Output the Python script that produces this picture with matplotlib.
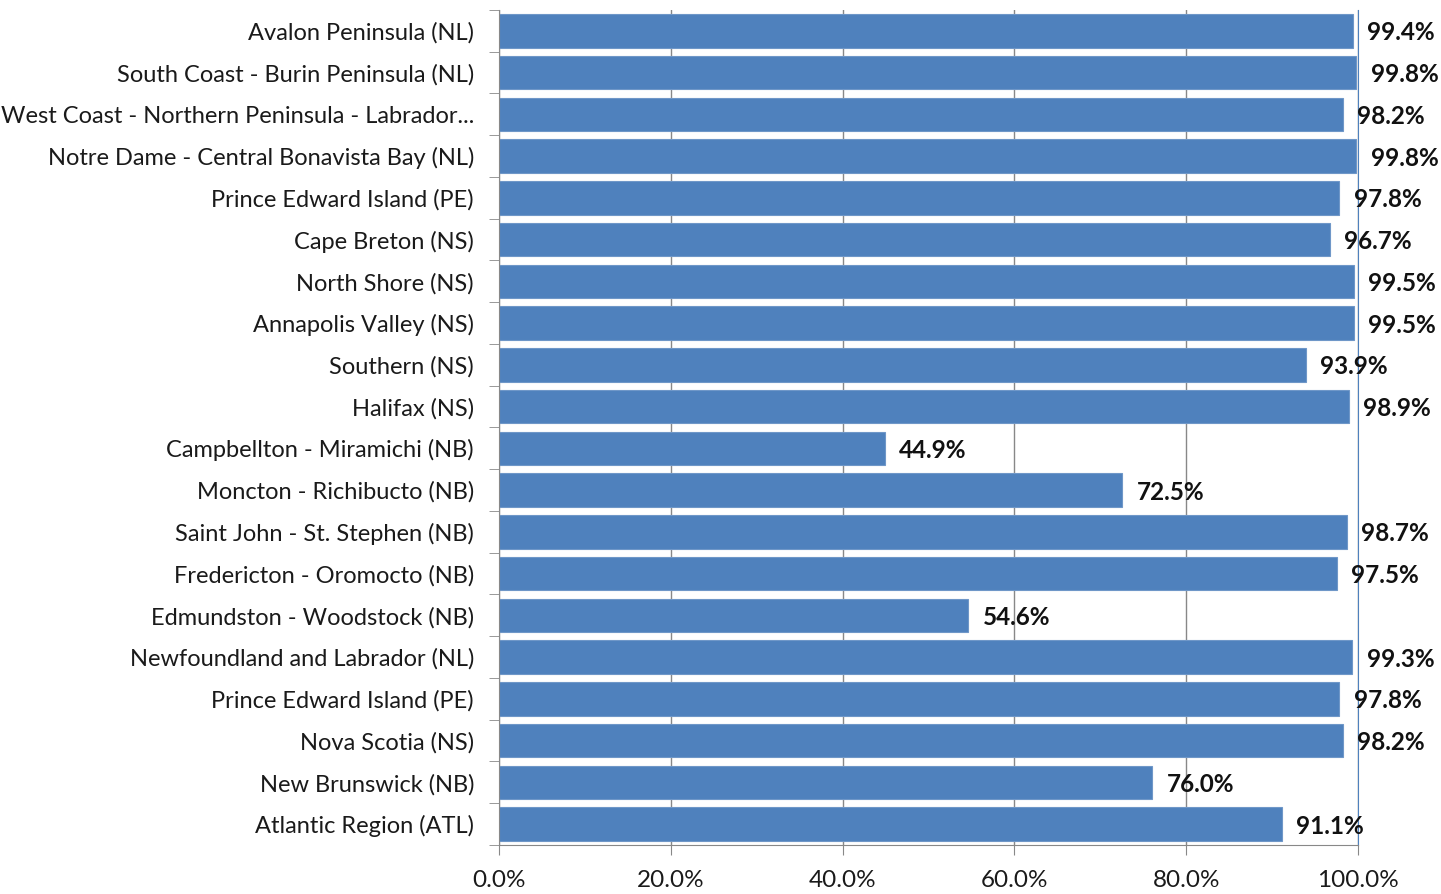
import matplotlib.pyplot as plt
import numpy as np

regions = ['Avalon Peninsula (NL)', 'South Coast - Burin Peninsula (NL)',
           'West Coast - Northern Peninsula - Labrador...',
           'Notre Dame - Central Bonavista Bay (NL)', 'Prince Edward Island (PE)',
           'Cape Breton (NS)', 'North Shore (NS)', 'Annapolis Valley (NS)',
           'Southern (NS)', 'Halifax (NS)', 'Campbellton - Miramichi (NB)',
           'Moncton - Richibucto (NB)', 'Saint John - St. Stephen (NB)',
           'Fredericton - Oromocto (NB)', 'Edmundston - Woodstock (NB)',
           'Newfoundland and Labrador (NL)', 'Prince Edward Island (PE)',
           'Nova Scotia (NS)', 'New Brunswick (NB)', 'Atlantic Region (ATL)']
values = [99.4, 99.8, 98.2, 99.8, 97.8, 96.7, 99.5, 99.5, 93.9, 98.9,
          44.9, 72.5, 98.7, 97.5, 54.6, 99.3, 97.8, 98.2, 76.0, 91.1]
xticks = [0, 20, 40, 60, 80, 100]

plt.rcParams['font.family'] = ['Lato', 'DejaVu Sans']
fig = plt.figure(figsize=(14.41, 8.94), dpi=100)
ax = fig.add_axes([499/1441, 1 - 845/894, 859/1441, 835/894])

y = np.arange(len(regions))
ax.barh(y, values, height=0.8, color='#4f81bd', edgecolor='#6f97c8', linewidth=0.8, zorder=2)
for yi, v in zip(y, values):
    ax.text(v + 1.7, yi, f'{v:.1f}%', va='center_baseline', ha='left', fontsize=17.5,
            fontweight='bold', color='#111111', zorder=3)

ax.set_xlim(0, 100)
ax.set_ylim(len(regions) - 0.5, -0.5)
ax.set_yticks(y)
ax.set_yticklabels(regions, fontsize=17, color='#1a1a1a')
ax.set_yticks(np.arange(-0.5, len(regions)), minor=True)
ax.tick_params(axis='y', which='major', length=0, pad=18)
ax.tick_params(axis='y', which='minor', length=7, color='#888888', direction='out')
ax.set_xticks(xticks)
ax.set_xticklabels([f'{t:.1f}%' for t in xticks], fontsize=17.5, color='#1a1a1a')
ax.tick_params(axis='x', length=7, color='#888888', direction='out', pad=11)
ax.grid(axis='x', color='#888888', linewidth=1, zorder=0)
ax.spines['top'].set_visible(False)
ax.spines['right'].set_color('#4f81bd')
ax.spines['left'].set_color('#888888')
ax.spines['bottom'].set_color('#888888')

fig.savefig('out.png', dpi=100)
